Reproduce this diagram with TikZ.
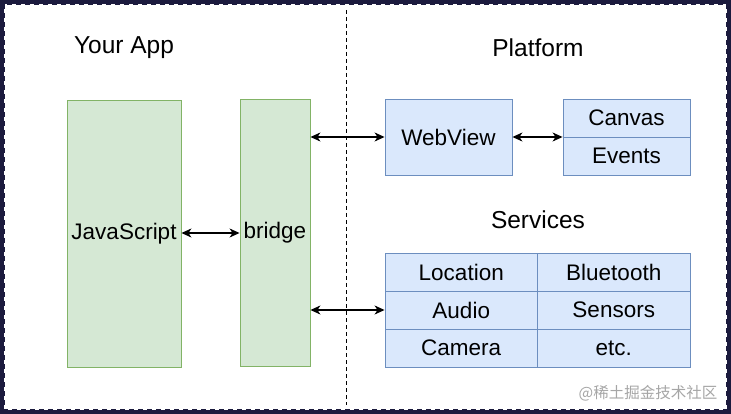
\documentclass[tikz,border=0pt]{standalone}
\usepackage{fontspec}
\setmainfont{Liberation Sans}
\newfontfamily\cjk{Noto Sans CJK SC}
\usetikzlibrary{arrows.meta}
\definecolor{gfill}{HTML}{D5E8D4}
\definecolor{gline}{HTML}{82B366}
\definecolor{bfill}{HTML}{DAE8FC}
\definecolor{bline}{HTML}{6C8EBF}
\definecolor{frame}{HTML}{1C1B3E}
\tikzset{
  gbox/.style={draw=gline, fill=gfill, line width=0.9pt, inner sep=0pt, font=\fontsize{22.5}{26}\selectfont},
  bbox/.style={draw=bline, fill=bfill, line width=0.9pt, inner sep=0pt, font=\fontsize{22.5}{26}\selectfont},
  title/.style={font=\fontsize{24.5}{28}\selectfont},
  conn/.style={{Stealth[length=10pt,width=9pt,inset=3pt]}-{Stealth[length=10pt,width=9pt,inset=3pt]}, line width=1.1pt},
}
\begin{document}
\begin{tikzpicture}[x=1pt,y=-1pt]
\useasboundingbox (0,0) rectangle (731,414);
\fill[frame] (0,0) rectangle (731,414);
\fill[white] (4,4) rectangle (727,410);
\draw[frame, line width=2.5pt, dash pattern=on 5pt off 4pt] (4,4) rectangle (727,410);
% divider
\draw[line width=0.8pt, dash pattern=on 4pt off 3pt] (346,10) -- (346,405);
% titles
\node[title] (yourapp) at (124,48) {Your App};
\node[title] (platform) at (538,48) {Platform};
\node[title] (services) at (538,220) {Services};
% green boxes
\node[gbox, minimum width=114pt, minimum height=267pt] (js) at (124,233.5) {JavaScript};
\node[gbox, minimum width=70pt, minimum height=267pt] (bridge) at (275,232.5) {bridge};
% webview
\node[bbox, minimum width=127pt, minimum height=76pt] (webview) at (448.5,137) {WebView};
\node[bbox, minimum width=127pt, minimum height=38pt] (canvas) at (626.5,118) {Canvas};
\node[bbox, minimum width=127pt, minimum height=38pt] (events) at (626.5,156) {Events};
% services table
\node[bbox, minimum width=152.5pt, minimum height=38pt] (location) at (461.25,272) {Location};
\node[bbox, minimum width=152.5pt, minimum height=38pt] (bluetooth) at (613.75,272) {Bluetooth};
\node[bbox, minimum width=152.5pt, minimum height=38pt] (audio) at (461.25,310) {Audio};
\node[bbox, minimum width=152.5pt, minimum height=38pt] (sensors) at (613.75,310) {Sensors};
\node[bbox, minimum width=152.5pt, minimum height=38pt] (camera) at (461.25,348) {Camera};
\node[bbox, minimum width=152.5pt, minimum height=38pt] (etc) at (613.75,348) {etc.};
% connectors
\draw[conn] (js.east |- 0,233) -- (bridge.west |- 0,233);
\draw[conn] (bridge.east |- webview.west) -- (webview.west);
\draw[conn] (webview.east) -- (webview.east -| canvas.west);
\draw[conn] (bridge.east |- audio.west) -- (audio.west);
% watermark
\node[font=\cjk\fontsize{15.5}{18}\selectfont, text=black!35] (wm) at (648,393) {@稀土掘金技术社区};
\end{tikzpicture}
\end{document}
